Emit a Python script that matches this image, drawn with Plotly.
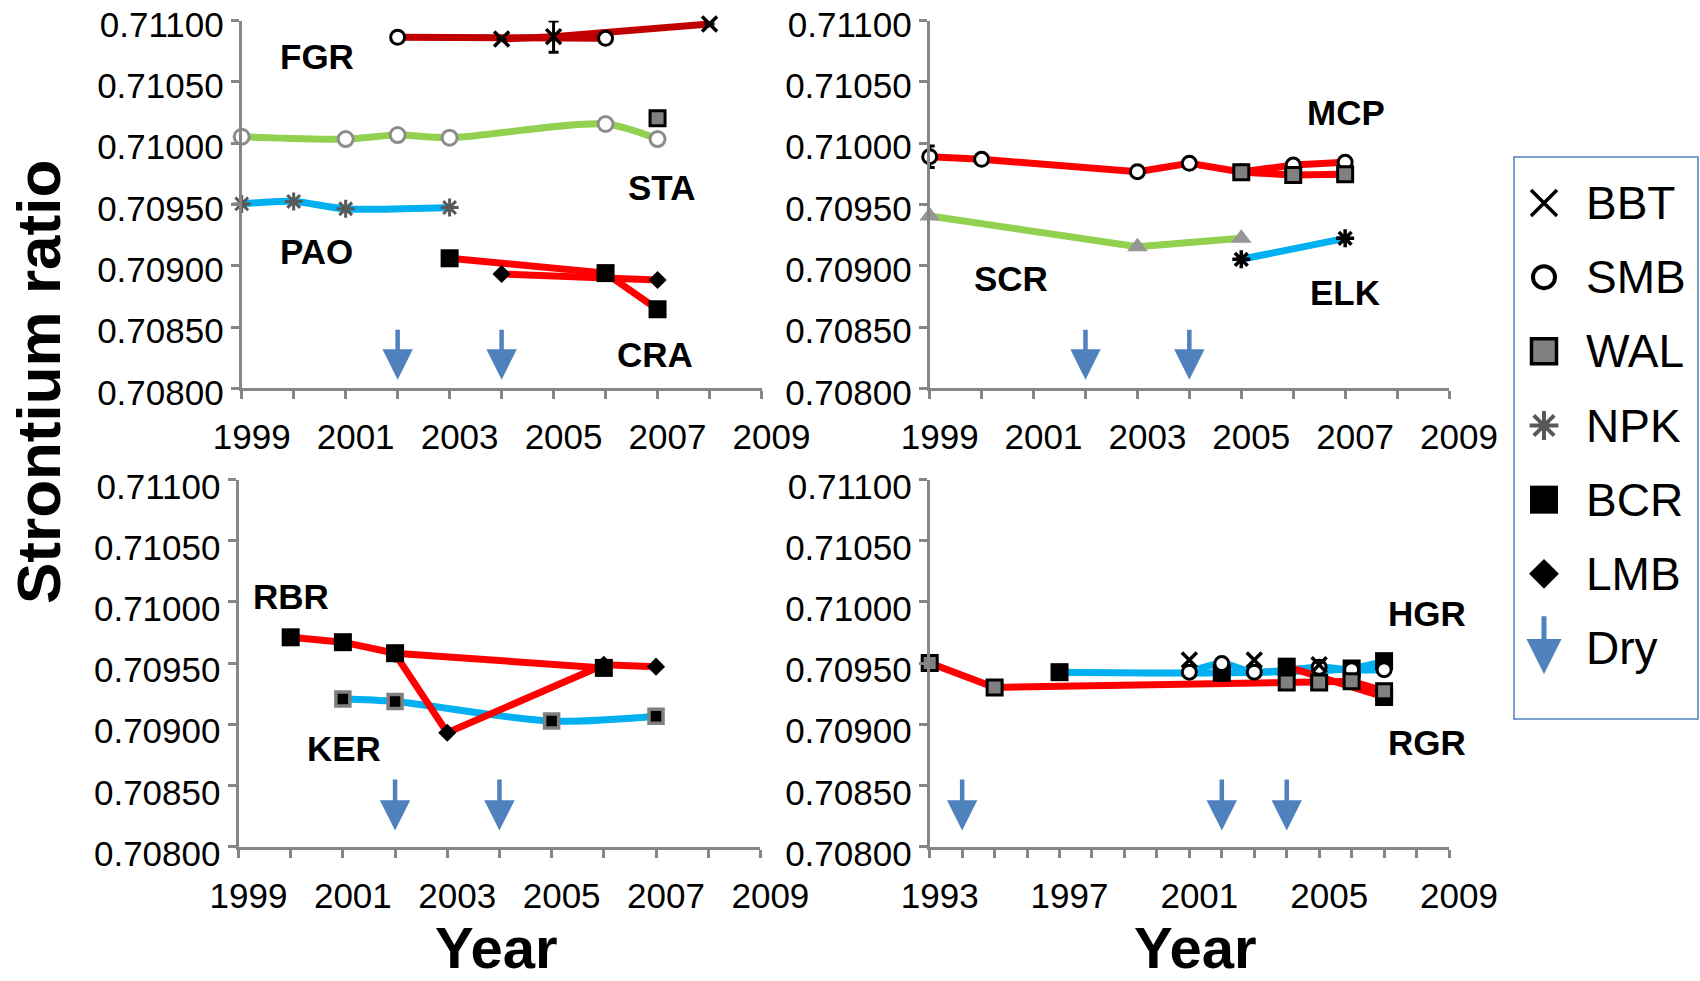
import plotly.graph_objects as go

# ---------------- data (Sr ratio by year) ----------------
# Panel 1 (top-left): FGR, STA, PAO, CRA
FGR_SMB_YEAR = [2002, 2006]
FGR_SMB_SR = [0.710865, 0.710856]
FGR_BBT_YEAR = [2004, 2005, 2008]
FGR_BBT_SR = [0.710851, 0.710870, 0.710973]
FGR_BBT_ERR = [0.0, 0.000128, 0.0]
STA_SMB_YEAR = [1999, 2001, 2002, 2003, 2006, 2007]
STA_SMB_SR = [0.710053, 0.710034, 0.710067, 0.710045, 0.710157, 0.710034]
STA_WAL_YEAR = [2007]
STA_WAL_SR = [0.710203]
PAO_NPK_YEAR = [1999, 2000, 2001, 2003]
PAO_NPK_SR = [0.709505, 0.709525, 0.709465, 0.709475]
CRA_BCR_YEAR = [2003, 2006, 2007]
CRA_BCR_SR = [0.709061, 0.708940, 0.708645]
CRA_LMB_YEAR = [2004, 2007]
CRA_LMB_SR = [0.708933, 0.708884]

# Panel 2 (top-right): MCP, SCR, ELK
MCP_SMB_YEAR = [1999, 2000, 2003, 2004, 2005, 2006, 2007]
MCP_SMB_SR = [0.709890, 0.709869, 0.709768, 0.709836, 0.709765, 0.709822, 0.709844]
MCP_SMB_ERR = [0.000088, 0.000030, 0.0, 0.0, 0.0, 0.0, 0.0]
MCP_WAL_YEAR = [2005, 2006, 2007]
MCP_WAL_SR = [0.709763, 0.709741, 0.709746]
SCR_YEAR = [1999, 2003, 2005]
SCR_SR = [0.709406, 0.709156, 0.709224]
ELK_NPK_YEAR = [2005, 2007]
ELK_NPK_SR = [0.709053, 0.709224]

# Panel 3 (bottom-left): RBR, KER
RBR_BCR_YEAR = [2000, 2001, 2002, 2006]
RBR_BCR_SR = [0.709710, 0.709670, 0.709580, 0.709460]
RBR_LMB_YEAR = [2002, 2003, 2006, 2007]
RBR_LMB_SR = [0.709575, 0.708930, 0.709485, 0.709470]
KER_WAL_YEAR = [2001, 2002, 2005, 2007]
KER_WAL_SR = [0.709205, 0.709185, 0.709025, 0.709065]

# Panel 4 (bottom-right): HGR, RGR
RGR_WAL_YEAR = [1993, 1995, 2004, 2005, 2006, 2007]
RGR_WAL_SR = [0.709500, 0.709300, 0.709340, 0.709340, 0.709350, 0.709270]
RGR_BCR_YEAR = [2004, 2007]
RGR_BCR_SR = [0.709470, 0.709222]
HGR_BCR_YEAR = [1997, 2002, 2006, 2007]
HGR_BCR_SR = [0.709425, 0.709420, 0.709455, 0.709515]
HGR_SMB_YEAR = [2001, 2002, 2003, 2005, 2006, 2007]
HGR_SMB_SR = [0.709425, 0.709495, 0.709425, 0.709465, 0.709445, 0.709445]
HGR_BBT_YEAR = [2001, 2003, 2005]
HGR_BBT_SR = [0.709525, 0.709525, 0.709485]

# Dry years per panel
DRY_YEARS = {1: [2002, 2004], 2: [2002, 2004], 3: [2002, 2004], 4: [1994, 2002, 2004]}

# Axis settings
Y_RANGE = [0.708, 0.711]
Y_DTICK = 0.0005
X_RANGES = {1: [1999, 2009], 2: [1999, 2009], 3: [1999, 2009], 4: [1993, 2009]}
X_DTICKS = {1: 2, 2: 2, 3: 2, 4: 4}

LEGEND_ITEMS = ["BBT", "SMB", "WAL", "NPK", "BCR", "LMB", "Dry"]

# ---------------- styling ----------------
W, H = 1700, 981
FONT = "Liberation Sans"
RED = "#FF0000"
DARKRED = "#C00000"
GREEN = "#92D050"
BLUE = "#00B0F0"
ARROW = "#4F81BD"
AXIS = "#868686"

MK = {
    "BBT": dict(symbol="x-thin", size=15, line=dict(width=3.5, color="black")),
    "SMB": dict(symbol="circle", size=14, color="white", line=dict(width=3, color="black")),
    "SMBg": dict(symbol="circle", size=15, color="white", line=dict(width=3, color="#8C8C8C")),
    "WAL": dict(symbol="square", size=15, color="#808080", line=dict(width=3, color="black")),
    "WALk": dict(symbol="square", size=14, color="black", line=dict(width=3.5, color="#7F7F7F")),
    "NPK": dict(symbol="asterisk", size=15, line=dict(width=3, color="#595959")),
    "NPKk": dict(symbol="asterisk", size=15, line=dict(width=3.5, color="black")),
    "BCR": dict(symbol="square", size=18, color="black", line=dict(width=0)),
    "LMB": dict(symbol="diamond", size=14, color="black", line=dict(width=0)),
    "TRI": dict(symbol="triangle-up", size=18, color="#969696", line=dict(width=0)),
}

LEG_MK = {
    "BBT": dict(symbol="x-thin", size=26, line=dict(width=3.5, color="black")),
    "SMB": dict(symbol="circle", size=22, color="white", line=dict(width=4, color="black")),
    "WAL": dict(symbol="square", size=25, color="#808080", line=dict(width=3.5, color="black")),
    "NPK": dict(symbol="asterisk", size=24, line=dict(width=4, color="#595959")),
    "BCR": dict(symbol="square", size=28, color="black", line=dict(width=0)),
    "LMB": dict(symbol="diamond", size=23, color="black", line=dict(width=0)),
}

# (panel, years, values, line colour or None, marker key, line shape, error array)
SERIES = [
    (1, STA_SMB_YEAR, STA_SMB_SR, GREEN, "SMBg", "spline", None),
    (1, STA_WAL_YEAR, STA_WAL_SR, None, "WAL", "linear", None),
    (1, PAO_NPK_YEAR, PAO_NPK_SR, BLUE, "NPK", "spline", None),
    (1, FGR_SMB_YEAR, FGR_SMB_SR, DARKRED, "SMB", "linear", None),
    (1, FGR_BBT_YEAR, FGR_BBT_SR, DARKRED, "BBT", "linear", FGR_BBT_ERR),
    (1, CRA_BCR_YEAR, CRA_BCR_SR, RED, "BCR", "linear", None),
    (1, CRA_LMB_YEAR, CRA_LMB_SR, RED, "LMB", "linear", None),
    (2, SCR_YEAR, SCR_SR, GREEN, "TRI", "linear", None),
    (2, ELK_NPK_YEAR, ELK_NPK_SR, BLUE, "NPKk", "linear", None),
    (2, MCP_SMB_YEAR, MCP_SMB_SR, RED, "SMB", "linear", MCP_SMB_ERR),
    (2, MCP_WAL_YEAR, MCP_WAL_SR, RED, "WAL", "linear", None),
    (3, KER_WAL_YEAR, KER_WAL_SR, BLUE, "WALk", "spline", None),
    (3, RBR_LMB_YEAR, RBR_LMB_SR, RED, "LMB", "linear", None),
    (3, RBR_BCR_YEAR, RBR_BCR_SR, RED, "BCR", "linear", None),
    (4, HGR_BCR_YEAR, HGR_BCR_SR, BLUE, "BCR", "spline", None),
    (4, HGR_SMB_YEAR, HGR_SMB_SR, BLUE, "SMB", "spline", None),
    (4, HGR_BBT_YEAR, HGR_BBT_SR, None, "BBT", "linear", None),
    (4, RGR_BCR_YEAR, RGR_BCR_SR, RED, "BCR", "linear", None),
    (4, RGR_WAL_YEAR, RGR_WAL_SR, RED, "WAL", "linear", None),
]

# panel labels: (panel, text, year, value)
LABELS = [
    (1, "FGR", 2000.44, 0.710709), (1, "STA", 2007.07, 0.709638),
    (1, "PAO", 2000.44, 0.709116), (1, "CRA", 2006.95, 0.708276),
    (2, "MCP", 2007.01, 0.710248), (2, "SCR", 2000.56, 0.708895),
    (2, "ELK", 2006.99, 0.708780),
    (3, "RBR", 2000.0, 0.710045), (3, "KER", 2001.02, 0.708805),
    (4, "HGR", 2008.31, 0.709903), (4, "RGR", 2008.31, 0.708849),
]
DRY_TAIL = {1: 0.70849, 2: 0.70849, 3: 0.70856, 4: 0.70856}
DRY_TIP = {1: 0.70807, 2: 0.70807, 3: 0.70813, 4: 0.70813}

# plot-area pixel boxes: (left, right, top, bottom)
BOX = {
    1: (241.7, 761.5, 20.7, 388.3),
    2: (929.7, 1449.0, 20.7, 388.3),
    3: (238.5, 760.4, 479.5, 846.5),
    4: (929.7, 1449.0, 479.5, 846.5),
}
YSHIFT = {1: 4, 2: 4, 3: 7, 4: 7}


def ax_names(n):
    s = "" if n == 1 else str(n)
    return "x" + s, "y" + s


fig = go.Figure()

# lines first
for p, yrs, vals, lc, mk, shape, err in SERIES:
    if lc is None:
        continue
    xa, ya = ax_names(p)
    fig.add_trace(go.Scatter(x=yrs, y=vals, mode="lines", xaxis=xa, yaxis=ya,
                             line=dict(color=lc, width=7, shape=shape, smoothing=0.8),
                             cliponaxis=False, showlegend=False, hoverinfo="skip"))
# markers on top
for p, yrs, vals, lc, mk, shape, err in SERIES:
    xa, ya = ax_names(p)
    kw = {}
    if err is not None:
        kw["error_y"] = dict(type="data", array=err, color="black", thickness=3, width=5)
    fig.add_trace(go.Scatter(x=yrs, y=vals, mode="markers", xaxis=xa, yaxis=ya,
                             marker=MK[mk], cliponaxis=False, showlegend=False, **kw))

# legend markers on a hidden helper axis
for i, name in enumerate(LEGEND_ITEMS[:6]):
    fig.add_trace(go.Scatter(x=[0.163], y=[i], mode="markers", xaxis="x5", yaxis="y5",
                             marker=LEG_MK[name], cliponaxis=False, showlegend=False,
                             hoverinfo="skip"))

layout = dict(width=W, height=H,
              margin=dict(l=0, r=0, t=0, b=0, pad=0, autoexpand=False),
              paper_bgcolor="white", plot_bgcolor="white", showlegend=False,
              font=dict(family=FONT, color="black"))

annotations = []
for p, (l, r, t, b) in BOX.items():
    s = "" if p == 1 else str(p)
    xa, ya = ax_names(p)
    layout["xaxis" + s] = dict(
        domain=[l / W, r / W], range=X_RANGES[p], anchor=ya, automargin=False,
        tickmode="linear", tick0=X_RANGES[p][0], dtick=X_DTICKS[p],
        showline=True, linecolor=AXIS, linewidth=3, showgrid=False, zeroline=False,
        ticks="outside", ticklen=8, tickwidth=2.5, tickcolor=AXIS,
        minor=dict(dtick=1, tick0=X_RANGES[p][0], ticks="outside", ticklen=8,
                   tickwidth=2.5, tickcolor=AXIS, showgrid=False),
        tickfont=dict(family=FONT, size=35, color="black"),
        ticklabelstandoff=8, ticklabelshift=10, ticklabeloverflow="allow")
    layout["yaxis" + s] = dict(
        domain=[1 - b / H, 1 - t / H], range=Y_RANGE, anchor=xa, automargin=False,
        tickmode="linear", tick0=Y_RANGE[0], dtick=Y_DTICK, tickformat=".5f",
        showline=True, linecolor=AXIS, linewidth=3, showgrid=False, zeroline=False,
        ticks="outside", ticklen=8, tickwidth=2.5, tickcolor=AXIS,
        tickfont=dict(family=FONT, size=35, color="black"),
        ticklabelshift=YSHIFT[p], ticklabeloverflow="allow")
    for yr in DRY_YEARS[p]:
        annotations.append(dict(x=yr, y=DRY_TIP[p], ax=yr, ay=DRY_TAIL[p],
                                xref=xa, yref=ya, axref=xa, ayref=ya, text="",
                                showarrow=True, arrowhead=2, arrowsize=1.35,
                                arrowwidth=4.5, arrowcolor=ARROW))

for p, txt, xv, yv in LABELS:
    xa, ya = ax_names(p)
    annotations.append(dict(x=xv, y=yv, xref=xa, yref=ya, text="<b>%s</b>" % txt,
                            showarrow=False, font=dict(family=FONT, size=35, color="black")))

# legend helper axis and box
LEG_L, LEG_R, LEG_T, LEG_B = 1514, 1698, 157, 719
layout["xaxis5"] = dict(domain=[LEG_L / W, LEG_R / W], range=[0, 1], visible=False,
                        anchor="y5", fixedrange=True)
layout["yaxis5"] = dict(domain=[1 - LEG_B / H, 1 - LEG_T / H], range=[6.957, -0.62],
                        visible=False, anchor="x5", fixedrange=True)
for i, name in enumerate(LEGEND_ITEMS):
    annotations.append(dict(x=0.38, y=i, xref="x5", yref="y5", text=name, xanchor="left",
                            showarrow=False, font=dict(family=FONT, size=46, color="black")))
annotations.append(dict(x=0.163, y=6.35, ax=0.163, ay=5.55, xref="x5", yref="y5",
                        axref="x5", ayref="y5", text="", showarrow=True, arrowhead=2,
                        arrowsize=1.4, arrowwidth=5, arrowcolor=ARROW))

# axis titles
annotations.append(dict(x=38 / W, y=1 - 382 / H, xref="paper", yref="paper",
                        xanchor="center", yanchor="middle",
                        text="<b>Strontium ratio</b>", textangle=-90, showarrow=False,
                        font=dict(family=FONT, size=62, color="black")))
annotations.append(dict(x=496 / W, y=1 - 947 / H, xref="paper", yref="paper",
                        xanchor="center", yanchor="middle",
                        text="<b>Year</b>", showarrow=False,
                        font=dict(family=FONT, size=58, color="black")))
annotations.append(dict(x=1195 / W, y=1 - 947 / H, xref="paper", yref="paper",
                        xanchor="center", yanchor="middle",
                        text="<b>Year</b>", showarrow=False,
                        font=dict(family=FONT, size=58, color="black")))

layout["annotations"] = annotations
layout["shapes"] = [dict(type="rect", xref="paper", yref="paper",
                         x0=LEG_L / W, x1=LEG_R / W, y0=1 - LEG_B / H, y1=1 - LEG_T / H,
                         line=dict(color=ARROW, width=1.5), fillcolor="rgba(0,0,0,0)")]
fig.update_layout(**layout)
fig.write_html("out.html")
